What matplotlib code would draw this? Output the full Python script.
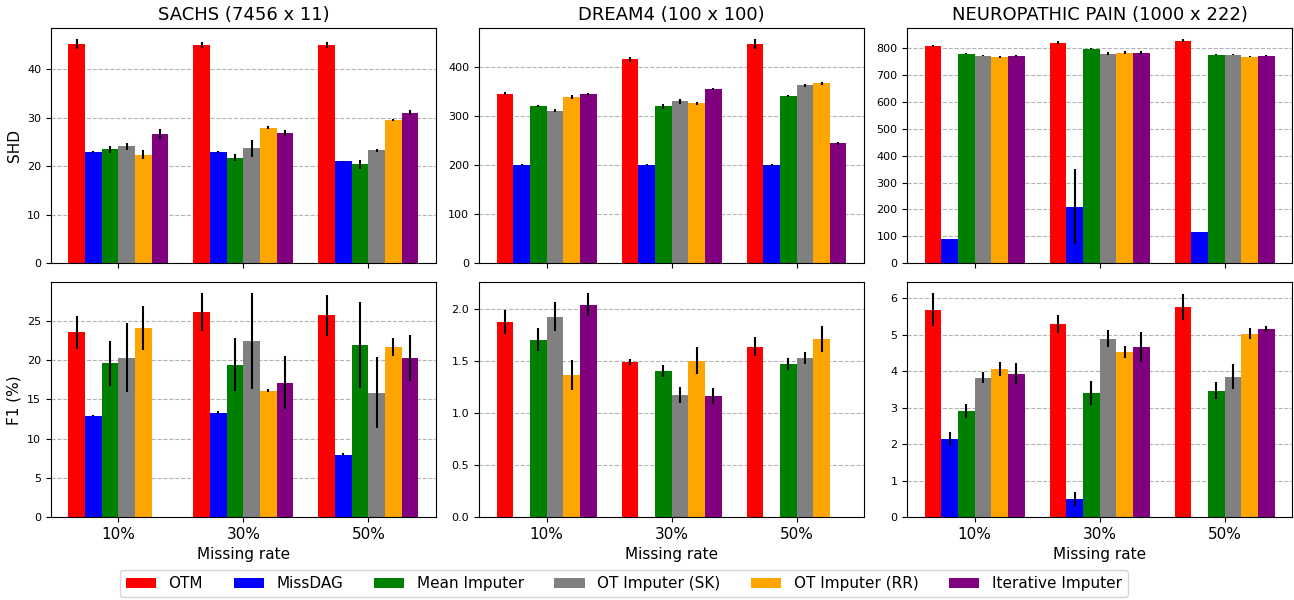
import matplotlib

matplotlib.use("Agg")
import matplotlib.pyplot as plt  # noqa: E402
import numpy as np  # noqa: E402

nan = np.nan

rates = ["10%", "30%", "50%"]
methods = ["OTM", "MissDAG", "Mean Imputer", "OT Imputer (SK)", "OT Imputer (RR)", "Iterative Imputer"]
colors = ["red", "blue", "green", "gray", "orange", "purple"]
datasets = ["SACHS (7456 x 11)", "DREAM4 (100 x 100)", "NEUROPATHIC PAIN (1000 x 222)"]

# SHD means / std, rows = methods, cols = missing rate
sachs_shd = [[45.2, 45.0, 45.0], [22.9, 22.9, 21.0], [23.5, 21.8, 20.4],
             [24.1, 23.7, 23.3], [22.4, 28.0, 29.5], [26.6, 26.8, 31.1]]
sachs_shd_err = [[1.0, 0.6, 0.6], [0.2, 0.2, 0.1], [0.7, 0.8, 1.0],
                 [0.7, 1.7, 0.3], [0.9, 0.4, 0.2], [1.0, 0.6, 0.6]]
dream_shd = [[345.4, 415.5, 446.0], [199.6, 199.6, 200.0], [319.5, 319.5, 340.0],
             [311.0, 329.7, 362.4], [338.0, 325.6, 366.5], [344.0, 354.0, 243.9]]
dream_shd_err = [[3, 5, 10], [2, 2, 2], [2, 5, 2], [3, 5, 3], [4, 3, 3], [3, 2, 3]]
pain_shd = [[809.0, 820.0, 827.5], [90.5, 209.7, 116.6], [779.0, 797.8, 775.0],
            [771.6, 779.0, 775.0], [768.0, 783.0, 768.0], [771.6, 783.0, 771.6]]
pain_shd_err = [[3, 6, 5], [0, 140, 0], [2, 1, 2], [1, 5, 2], [3, 6, 1], [3, 5, 1]]

# F1 (%) means / std
sachs_f1 = [[23.5, 26.05, 25.65], [12.92, 13.3, 7.95], [19.55, 19.4, 21.85],
            [20.3, 22.35, 15.85], [24.1, 16.1, 21.6], [nan, 17.1, 20.2]]
sachs_f1_err = [[2.1, 2.4, 2.6], [0.1, 0.15, 0.15], [2.9, 3.4, 5.45],
                [4.4, 6.1, 4.5], [2.8, 0.15, 1.15], [nan, 3.4, 2.9]]
dream_f1 = [[1.875, 1.491, 1.635], [nan, nan, nan], [1.702, 1.405, 1.472],
            [1.923, 1.174, 1.53], [1.366, 1.501, 1.712], [2.038, 1.165, nan]]
dream_f1_err = [[0.117, 0.03, 0.09], [nan, nan, nan], [0.11, 0.06, 0.058],
                [0.14, 0.08, 0.055], [0.145, 0.13, 0.125], [0.11, 0.074, nan]]
pain_f1 = [[5.686, 5.30, 5.768], [2.148, 0.503, nan], [2.916, 3.41, 3.464],
           [3.82, 4.89, 3.85], [4.068, 4.534, 5.027], [3.93, 4.67, 5.165]]
pain_f1_err = [[0.45, 0.24, 0.35], [0.19, 0.2, nan], [0.2, 0.33, 0.23],
               [0.15, 0.23, 0.34], [0.2, 0.165, 0.15], [0.29, 0.41, 0.08]]

shd = [(sachs_shd, sachs_shd_err), (dream_shd, dream_shd_err), (pain_shd, pain_shd_err)]
f1 = [(sachs_f1, sachs_f1_err), (dream_f1, dream_f1_err), (pain_f1, pain_f1_err)]


def draw(ax, means, errs):
    x = np.arange(len(rates))
    w = 0.8 / len(methods)
    handles = []
    for i, (name, color) in enumerate(zip(methods, colors)):
        h = ax.bar(x + (i - 2.5) * w, means[i], w, yerr=errs[i], color=color,
                   label=name, error_kw=dict(ecolor="black", elinewidth=1.5, capsize=0))
        handles.append(h)
    ax.set_xticks(x)
    ax.grid(True, axis="y", linestyle="--", color="gray", alpha=0.6)
    ax.set_axisbelow(True)
    ax.tick_params(axis="y", labelsize=8)
    return handles


fig, axes = plt.subplots(2, 3, figsize=(12.94, 6), dpi=100, sharex=True)
fig.subplots_adjust(left=0.0394, right=0.9985, top=0.953, bottom=0.138, wspace=0.112, hspace=0.081)

for j in range(3):
    handles = draw(axes[0, j], *shd[j])
    draw(axes[1, j], *f1[j])
    axes[0, j].set_title(datasets[j], fontsize=13)
    axes[1, j].set_xticklabels(rates, fontsize=11)
    axes[1, j].set_xlabel("Missing rate", fontsize=11)

axes[0, 0].set_ylabel("SHD", fontsize=11)
axes[1, 0].set_ylabel("F1 (%)", fontsize=11)

fig.legend(handles, methods, loc="center", ncol=6, bbox_to_anchor=(0.482, 0.027), fontsize=11)

fig.savefig("out.png", dpi=100)
